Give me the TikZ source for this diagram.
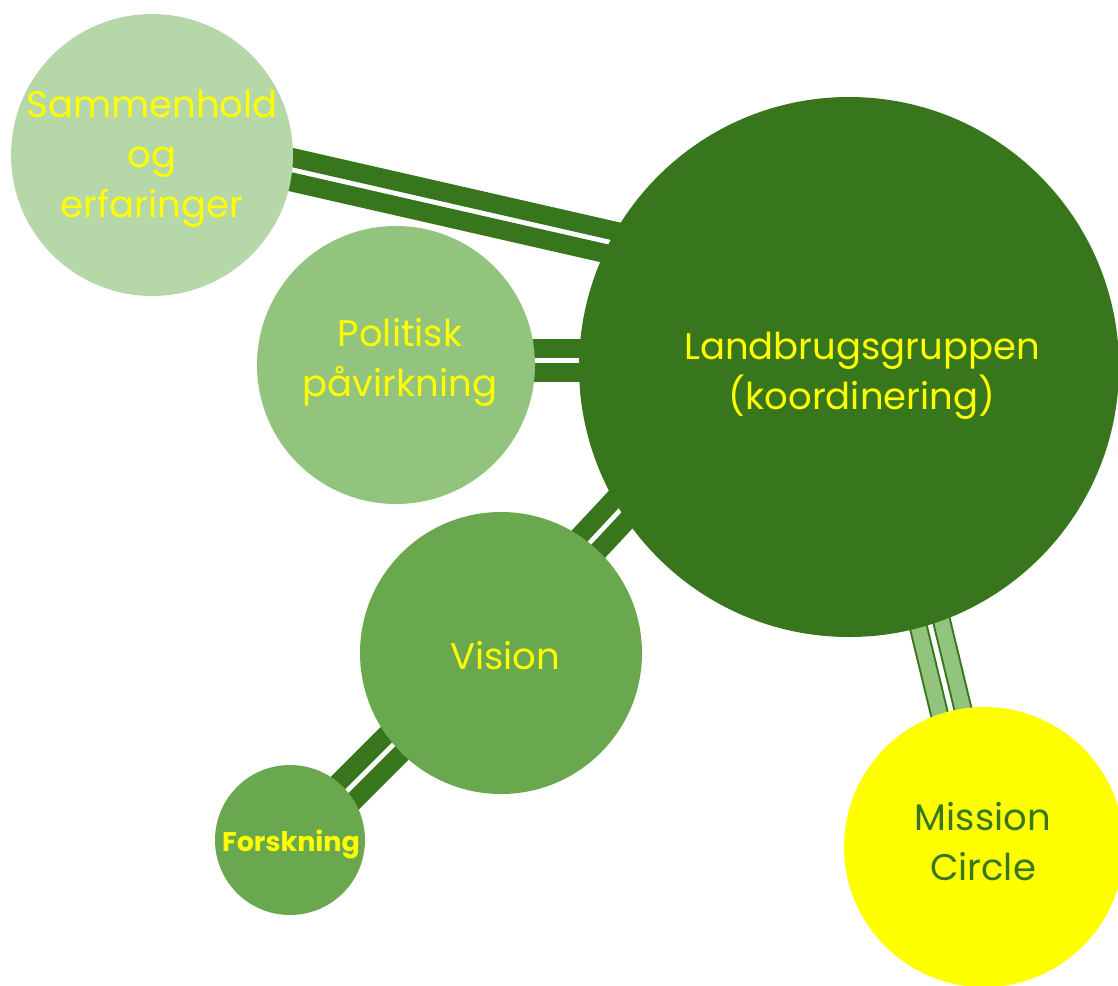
\documentclass[tikz,border=0pt]{standalone}
\usepackage{fontspec}
\setmainfont{Poppins}
\usetikzlibrary{calc}
\definecolor{dkgreen}{HTML}{38761D}
\definecolor{palegreen}{HTML}{B6D7A8}
\definecolor{midgreen}{HTML}{93C47D}
\definecolor{leafgreen}{HTML}{6AA84F}
\definecolor{txtyellow}{HTML}{FFFF00}
\begin{document}
\begin{tikzpicture}[x=1pt,y=-1pt,
  bubble/.style={circle, inner sep=0pt, minimum size=#1},
  lbl/.style={align=center, text=txtyellow, font=\fontsize{37}{50}\selectfont},
  barsolid/.style={draw=dkgreen, line width=19pt},
  barrim/.style={draw=dkgreen, line width=19pt},
  barfill/.style={draw=midgreen, line width=15pt}]
\path[use as bounding box] (0,0) rectangle (1118,985);
\clip (0,0) rectangle (1118,985);
% connector end points
\coordinate (c1a) at (200,148.8); \coordinate (c1b) at (700,262.8);
\coordinate (c2a) at (450,360);   \coordinate (c2b) at (700,360);
\coordinate (c3a) at (540,596);   \coordinate (c3b) at (680,446);
\coordinate (c4a) at (300,838);   \coordinate (c4b) at (450,688);
\coordinate (c5a) at (900,500);   \coordinate (c5b) at (975,810);
% solid double connectors
\foreach \a/\b in {c1a/c1b, c2a/c2b, c3a/c3b, c4a/c4b}{
  \draw[barsolid] ($(\a)!12pt!90:(\b)$) -- ($(\b)!12pt!-90:(\a)$);
  \draw[barsolid] ($(\a)!12pt!-90:(\b)$) -- ($(\b)!12pt!90:(\a)$);
}
% light double connector
\foreach \s in {90,-90}{
  \pgfmathsetmacro{\t}{-\s}
  \draw[barrim] ($(c5a)!12pt!\s:(c5b)$) -- ($(c5b)!12pt!\t:(c5a)$);
  \draw[barfill] ($(c5a)!12pt!\s:(c5b)$) -- ($(c5b)!12pt!\t:(c5a)$);
}
% circles
\node[bubble=282pt, fill=palegreen] (samm) at (152,155) {};
\node[bubble=278pt, fill=midgreen] (poli) at (396,365) {};
\node[bubble=540pt, fill=dkgreen] (land) at (849,367) {};
\node[bubble=282pt, fill=leafgreen] (visi) at (501,653) {};
\node[bubble=150pt, fill=leafgreen] (fors) at (290,840) {};
\node[bubble=280pt, fill=txtyellow] (miss) at (984,847) {};
% labels
\node[lbl] (sammT) at (152,159) {Sammenhold\\og\\erfaringer};
\node[lbl] (poliT) at (400,362) {Politisk\\påvirkning};
\node[lbl] (landT) at (862,376) {Landbrugsgruppen\\(koordinering)};
\node[lbl] (visiT) at (505,656) {Vision};
\node[lbl, font=\fontsize{27}{30}\selectfont\bfseries] (forsT) at (291,844) {Forskning};
\node[lbl, text=dkgreen] (missT) at (983,842) {Mission\\Circle};
\end{tikzpicture}
\end{document}
